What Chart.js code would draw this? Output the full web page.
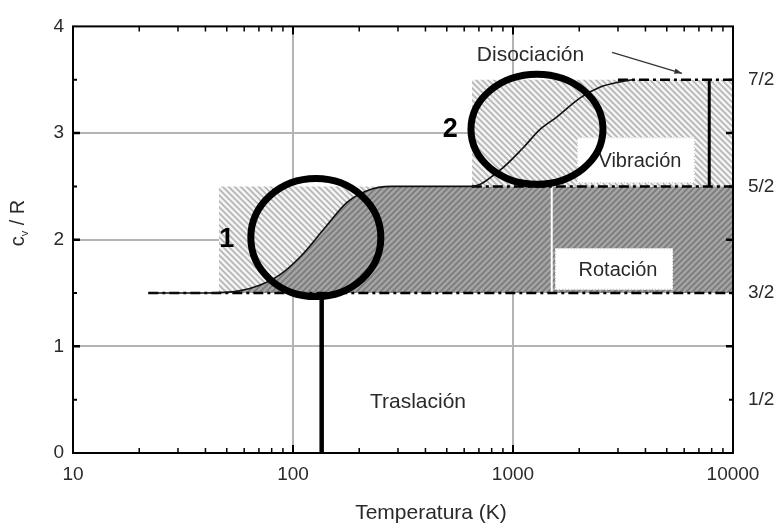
<!DOCTYPE html>
<html>
<head>
<meta charset="utf-8">
<script src="https://cdn.jsdelivr.net/npm/chart.js@4"></script>
<style>
  body { margin: 0; background: #fff; }
  #wrap { width: 783px; height: 523px; }
</style>
</head>
<body>
<div id="wrap"><canvas id="cv" width="783" height="523"></canvas></div>
<script>
// curva cv/R frente a T
const curveT  = [22, 40, 57, 70, 87, 108, 137, 176, 217, 280, 400, 650, 870, 1110, 1320, 1580, 2020, 2480, 3060, 3500];
const curveCv = [1.5, 1.5, 1.52, 1.57, 1.67, 1.84, 2.09, 2.35, 2.46, 2.5, 2.5, 2.5, 2.65, 2.86, 3.03, 3.15, 3.33, 3.43, 3.48, 3.5];

// niveles clásicos
const levelT  = [[22, 10000], [650, 10000], [3000, 10000]];
const levelCv = [1.5, 2.5, 3.5];

// zonas sombreadas: [Tinicio, Tfin], [cv bajo, cv alto]
const rotZoneT = [46, 10000];   const rotZoneCv = [1.5, 2.5];
const vibZoneT = [650, 10000];  const vibZoneCv = [2.5, 3.5];
const plateauEndT = 10000;

// separadores verticales
const transLineT = 135;  const transLineCv = [0, 1.5];
const dissLineT  = 7800; const dissLineCv  = [2.5, 3.5];
const rotSepT    = 1500; const rotSepCv    = [1.5, 2.5];

// ejes
const xTickValues = [10, 100, 1000, 10000];
const yTickValues = [0, 1, 2, 3, 4];
const rightTickValues = [0.5, 1.5, 2.5, 3.5];
const rightTickLabels = ['1/2', '3/2', '5/2', '7/2'];

const FONT = "'Liberation Sans', Arial, sans-serif";
const TXT = '#2a2a2a';

const canvas = document.getElementById('cv');
const ctx0 = canvas.getContext('2d');

function makeHatch(bg, fg, up) {
  const c = document.createElement('canvas');
  c.width = c.height = 6;
  const g = c.getContext('2d');
  g.fillStyle = bg;
  g.fillRect(0, 0, 6, 6);
  g.strokeStyle = fg;
  g.lineWidth = 1.6;
  g.beginPath();
  if (up) {
    g.moveTo(-1, 7); g.lineTo(7, -1);
    g.moveTo(-4, 4); g.lineTo(4, -4);
    g.moveTo(2, 10); g.lineTo(10, 2);
  } else {
    g.moveTo(-1, -1); g.lineTo(7, 7);
    g.moveTo(-4, 2); g.lineTo(4, 10);
    g.moveTo(2, -4); g.lineTo(10, 4);
  }
  g.stroke();
  return ctx0.createPattern(c, 'repeat');
}
const lightHatch = makeHatch('#f4f4f4', '#b4b4b4', false);
const darkHatch = makeHatch('#a4a4a4', '#7a7a7a', true);

const pts = (xs, ys) => xs.map((t, i) => ({ x: t, y: ys[i] }));

// zona oscura = bajo la curva hasta la meseta de 5/2
const darkT = curveT.filter(t => t <= 650).concat([plateauEndT]);
const darkCv = curveCv.slice(0, darkT.length - 1).concat([2.5]);

const base = { pointRadius: 0, borderWidth: 0, showLine: true, fill: false };
const dashDot = [10, 4, 3, 4];

const datasets = [
  Object.assign({}, base, { order: 10, data: pts(rotZoneT, [rotZoneCv[1], rotZoneCv[1]]), fill: { value: rotZoneCv[0] }, backgroundColor: lightHatch }),
  Object.assign({}, base, { order: 9, data: pts(darkT, darkCv), fill: { value: 1.5 }, backgroundColor: darkHatch, cubicInterpolationMode: 'monotone' }),
  Object.assign({}, base, { order: 8, data: pts(vibZoneT, [vibZoneCv[1], vibZoneCv[1]]), fill: { value: vibZoneCv[0] }, backgroundColor: lightHatch }),
  Object.assign({}, base, { order: 7, data: pts([rotSepT, rotSepT], rotSepCv), borderColor: '#ffffff', borderWidth: 2 }),
  ...levelCv.map((v, i) => Object.assign({}, base, { order: 6, data: pts(levelT[i], [v, v]), borderColor: '#000', borderWidth: 2.5, borderDash: dashDot })),
  Object.assign({}, base, { order: 5, data: pts(curveT, curveCv), borderColor: '#111', borderWidth: 1.6, cubicInterpolationMode: 'monotone' }),
  Object.assign({}, base, { order: 4, data: pts([transLineT, transLineT], transLineCv), borderColor: '#000', borderWidth: 4.5 }),
  Object.assign({}, base, { order: 4, data: pts([dissLineT, dissLineT], dissLineCv), borderColor: '#000', borderWidth: 3 })
];

const overlay = {
  id: 'overlay',
  afterDatasetsDraw(chart) {
    const { ctx, chartArea: a, scales: { x, y } } = chart;
    const px = t => x.getPixelForValue(t);
    const py = v => y.getPixelForValue(v);
    ctx.save();

    // cajas blancas de texto
    function box(t0, t1, v0, v1, label) {
      const x0 = px(t0), x1 = px(t1), y0 = py(v1), y1 = py(v0);
      ctx.fillStyle = '#fff';
      ctx.fillRect(x0, y0, x1 - x0, y1 - y0);
      ctx.setLineDash([1, 2]);
      ctx.strokeStyle = '#bbb';
      ctx.lineWidth = 1;
      ctx.strokeRect(x0 + 0.5, y0 + 0.5, x1 - x0 - 1, y1 - y0 - 1);
      ctx.setLineDash([]);
      ctx.fillStyle = TXT;
      ctx.font = '20px ' + FONT;
      ctx.textAlign = 'center';
      ctx.textBaseline = 'middle';
      ctx.fillText(label, (x0 + x1) / 2 + 4, (y0 + y1) / 2 + 1);
    }
    box(1954, 6710, 2.53, 2.96, 'Vibración');
    box(1553, 5335, 1.53, 1.92, 'Rotación');

    // círculos
    ctx.strokeStyle = '#000';
    ctx.lineWidth = 7;
    ctx.beginPath();
    ctx.ellipse(px(127), py(2.02), 65, 59, 0, 0, Math.PI * 2);
    ctx.stroke();
    ctx.beginPath();
    ctx.ellipse(px(1285), py(3.035), 66, 55, 0, 0, Math.PI * 2);
    ctx.stroke();

    // textos
    ctx.fillStyle = '#000';
    ctx.font = 'bold 27px ' + FONT;
    ctx.textAlign = 'center';
    ctx.textBaseline = 'middle';
    ctx.fillText('1', px(50), py(2.0));
    ctx.fillText('2', px(518), py(3.03));

    ctx.fillStyle = TXT;
    ctx.font = '21px ' + FONT;
    ctx.fillText('Traslación', px(370), py(0.48));
    ctx.textAlign = 'left';
    ctx.fillText('Disociación', px(685), py(3.73));

    // flecha de disociación
    const ax0 = px(2820), ay0 = py(3.756), ax1 = px(5860), ay1 = py(3.56);
    ctx.strokeStyle = '#333';
    ctx.lineWidth = 1.2;
    ctx.beginPath();
    ctx.moveTo(ax0, ay0);
    ctx.lineTo(ax1, ay1);
    ctx.stroke();
    const ang = Math.atan2(ay1 - ay0, ax1 - ax0);
    ctx.fillStyle = '#333';
    ctx.beginPath();
    ctx.moveTo(ax1, ay1);
    ctx.lineTo(ax1 - 8 * Math.cos(ang - 0.35), ay1 - 8 * Math.sin(ang - 0.35));
    ctx.lineTo(ax1 - 8 * Math.cos(ang + 0.35), ay1 - 8 * Math.sin(ang + 0.35));
    ctx.closePath();
    ctx.fill();

    // marcas interiores de los ejes
    ctx.strokeStyle = '#000';
    for (let d = 10; d < 10000; d *= 10) {
      for (let k = 1; k < 10; k++) {
        const xx = px(d * k);
        const len = k === 1 ? 8 : 5;
        ctx.lineWidth = k === 1 ? 2 : 1.5;
        ctx.beginPath();
        ctx.moveTo(xx, a.bottom); ctx.lineTo(xx, a.bottom - len);
        ctx.moveTo(xx, a.top); ctx.lineTo(xx, a.top + len);
        ctx.stroke();
      }
    }
    for (let v = 0.5; v < 4; v += 0.5) {
      const yy = py(v);
      const major = Number.isInteger(v);
      const len = major ? 7 : 4;
      ctx.lineWidth = major ? 2.5 : 2;
      ctx.beginPath();
      ctx.moveTo(a.left, yy); ctx.lineTo(a.left + len, yy);
      ctx.moveTo(a.right, yy); ctx.lineTo(a.right - len, yy);
      ctx.stroke();
    }

    // marco
    ctx.lineWidth = 2;
    ctx.strokeRect(a.left, a.top, a.right - a.left, a.bottom - a.top);

    // títulos de ejes
    ctx.fillStyle = TXT;
    ctx.font = '21px ' + FONT;
    ctx.textAlign = 'center';
    ctx.textBaseline = 'alphabetic';
    ctx.fillText('Temperatura (K)', 431, 519);

    ctx.translate(17, 223);
    ctx.rotate(-Math.PI / 2);
    ctx.textAlign = 'left';
    ctx.font = '20px ' + FONT;
    const w1 = ctx.measureText('c').width;
    const w3 = ctx.measureText(' / R').width;
    ctx.font = '11px ' + FONT;
    const w2 = ctx.measureText('v').width;
    let sx = -(w1 + w2 + w3) / 2;
    ctx.font = '20px ' + FONT;
    ctx.fillText('c', sx, 7);
    ctx.font = '11px ' + FONT;
    ctx.fillText('v', sx + w1, 11);
    ctx.font = '20px ' + FONT;
    ctx.fillText(' / R', sx + w1 + w2, 7);

    ctx.restore();
  }
};

const gridColor = '#b4b4b4';

new Chart(canvas, {
  type: 'scatter',
  data: { datasets: datasets },
  options: {
    responsive: false,
    animation: false,
    devicePixelRatio: 1,
    layout: { padding: { top: 26, left: 0, right: 0, bottom: 0 } },
    plugins: { legend: { display: false }, tooltip: { enabled: false } },
    scales: {
      x: {
        type: 'logarithmic',
        position: 'bottom',
        min: 10,
        max: 10000,
        afterBuildTicks: s => { s.ticks = xTickValues.map(v => ({ value: v })); },
        afterFit: s => { s.height = 70; },
        ticks: { callback: v => String(v), color: TXT, font: { family: FONT, size: 19 }, padding: 10, maxRotation: 0, autoSkip: false },
        grid: {
          color: c => (c.tick && (c.tick.value === 10 || c.tick.value === 10000)) ? 'rgba(0,0,0,0)' : gridColor,
          lineWidth: 2,
          drawTicks: false
        },
        border: { display: false }
      },
      y: {
        min: 0,
        max: 4,
        afterBuildTicks: s => { s.ticks = yTickValues.map(v => ({ value: v })); },
        afterFit: s => { s.width = 73; },
        ticks: { color: TXT, font: { family: FONT, size: 19 }, padding: 9 },
        grid: {
          color: c => (c.tick && (c.tick.value === 0 || c.tick.value === 4)) ? 'rgba(0,0,0,0)' : gridColor,
          lineWidth: 2,
          drawTicks: false
        },
        border: { display: false }
      },
      y2: {
        position: 'right',
        min: 0,
        max: 4,
        afterBuildTicks: s => { s.ticks = rightTickValues.map(v => ({ value: v })); },
        afterFit: s => { s.width = 50; },
        ticks: { callback: (v, i) => rightTickLabels[i], color: TXT, font: { family: FONT, size: 19 }, padding: 15 },
        grid: { display: false, drawTicks: false },
        border: { display: false }
      }
    }
  },
  plugins: [overlay]
});
</script>
</body>
</html>
